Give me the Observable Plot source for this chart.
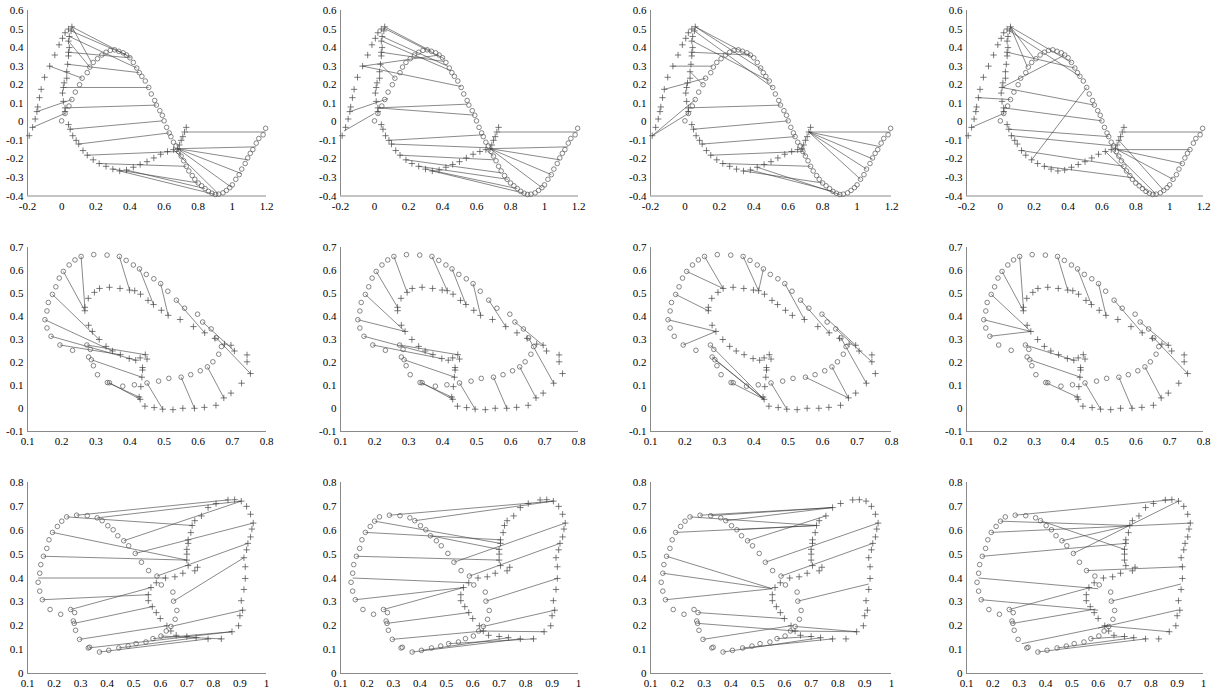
<!DOCTYPE html>
<html><head><meta charset="utf-8">
<script src="https://cdn.jsdelivr.net/npm/d3@7"></script>
<script src="https://cdn.jsdelivr.net/npm/@observablehq/plot@0.6"></script>
<style>
body{margin:0;background:#fff;}
#wrap{position:relative;width:1213px;height:691px;overflow:hidden;background:#fff;}
#wrap svg{position:absolute;max-width:none;}
</style></head><body><div id="wrap"></div>
<script>
// ---------- tick labels ----------
const row1XTicks = [-0.2,0,0.2,0.4,0.6,0.8,1,1.2];
const row1XLabels = ["-0.2","0","0.2","0.4","0.6","0.8","1","1.2"];
const row1YTicks = [-0.4,-0.3,-0.2,-0.1,0,0.1,0.2,0.3,0.4,0.5,0.6];
const row1YLabels = ["-0.4","-0.3","-0.2","-0.1","0","0.1","0.2","0.3","0.4","0.5","0.6"];
const row2XTicks = [0.1,0.2,0.3,0.4,0.5,0.6,0.7,0.8];
const row2XLabels = ["0.1","0.2","0.3","0.4","0.5","0.6","0.7","0.8"];
const row2YTicks = [-0.1,0,0.1,0.2,0.3,0.4,0.5,0.6,0.7];
const row2YLabels = ["-0.1","0","0.1","0.2","0.3","0.4","0.5","0.6","0.7"];
const row3XTicks = [0.1,0.2,0.3,0.4,0.5,0.6,0.7,0.8,0.9,1];
const row3XLabels = ["0.1","0.2","0.3","0.4","0.5","0.6","0.7","0.8","0.9","1"];
const row3YTicks = [0,0.1,0.2,0.3,0.4,0.5,0.6,0.7,0.8];
const row3YLabels = ["0","0.1","0.2","0.3","0.4","0.5","0.6","0.7","0.8"];

// ---------- row 1 point sets ----------
const row1Circles = [[0,0.005],[0.02,0.045],[0.043,0.085],[0.06,0.12],[0.08,0.16],[0.105,0.2],[0.12,0.235],[0.15,0.265],[0.165,0.295],[0.185,0.32],[0.21,0.34],[0.235,0.36],[0.26,0.375],[0.285,0.385],[0.31,0.388],[0.335,0.38],[0.36,0.372],[0.38,0.36],[0.4,0.345],[0.42,0.32],[0.44,0.29],[0.455,0.265],[0.47,0.245],[0.49,0.22],[0.51,0.185],[0.525,0.15],[0.545,0.115],[0.555,0.09],[0.575,0.06],[0.59,0.035],[0.6,0.005],[0.615,-0.03],[0.63,-0.06],[0.64,-0.08],[0.655,-0.11],[0.67,-0.13],[0.685,-0.16],[0.7,-0.185],[0.715,-0.21],[0.73,-0.24],[0.745,-0.265],[0.765,-0.29],[0.78,-0.31],[0.8,-0.33],[0.82,-0.345],[0.84,-0.36],[0.86,-0.375],[0.88,-0.385],[0.9,-0.392],[0.92,-0.39],[0.945,-0.383],[0.965,-0.37],[0.985,-0.355],[1.0,-0.34],[1.02,-0.31],[1.04,-0.285],[1.055,-0.255],[1.075,-0.225],[1.09,-0.195],[1.105,-0.17],[1.12,-0.15],[1.14,-0.115],[1.155,-0.09],[1.18,-0.07],[1.195,-0.035]];
const row1Plus = [[-0.19,-0.075],[-0.17,-0.03],[-0.155,0.015],[-0.145,0.055],[-0.14,0.08],[-0.13,0.13],[-0.12,0.175],[-0.1,0.24],[-0.07,0.3],[-0.04,0.36],[-0.015,0.415],[0.005,0.45],[0.02,0.48],[0.04,0.5],[0.06,0.512],[0.055,0.49],[0.045,0.46],[0.04,0.435],[0.045,0.4],[0.04,0.375],[0.04,0.355],[0.035,0.31],[0.03,0.27],[0.03,0.235],[0.015,0.21],[0.01,0.185],[0.005,0.155],[0.01,0.11],[0.02,0.075],[0.02,0.055],[0.04,-0.015],[0.05,-0.04],[0.065,-0.075],[0.085,-0.1],[0.1,-0.12],[0.125,-0.155],[0.15,-0.18],[0.185,-0.205],[0.22,-0.225],[0.26,-0.24],[0.3,-0.255],[0.34,-0.265],[0.38,-0.26],[0.42,-0.245],[0.46,-0.23],[0.5,-0.215],[0.54,-0.195],[0.58,-0.175],[0.62,-0.16],[0.655,-0.15],[0.68,-0.145],[0.69,-0.125],[0.7,-0.1],[0.71,-0.08],[0.72,-0.055],[0.73,-0.03]];

// ---------- row 2 point sets ----------
const row2Circles = [[0.333,0.667],[0.294,0.669],[0.257,0.661],[0.239,0.646],[0.222,0.624],[0.205,0.596],[0.193,0.567],[0.183,0.529],[0.173,0.496],[0.161,0.461],[0.157,0.424],[0.151,0.386],[0.157,0.35],[0.169,0.314],[0.195,0.276],[0.232,0.253],[0.274,0.276],[0.284,0.257],[0.279,0.224],[0.287,0.212],[0.293,0.186],[0.305,0.147],[0.334,0.113],[0.34,0.112],[0.379,0.097],[0.413,0.103],[0.45,0.111],[0.484,0.119],[0.514,0.131],[0.55,0.136],[0.578,0.147],[0.606,0.164],[0.627,0.181],[0.643,0.203],[0.66,0.236],[0.668,0.269],[0.653,0.307],[0.638,0.346],[0.613,0.376],[0.598,0.41],[0.56,0.436],[0.536,0.471],[0.511,0.51],[0.49,0.543],[0.47,0.564],[0.448,0.583],[0.428,0.607],[0.41,0.624],[0.389,0.644],[0.369,0.661]];
const row2Plus = [[0.278,0.479],[0.296,0.505],[0.311,0.522],[0.34,0.527],[0.371,0.522],[0.399,0.515],[0.414,0.512],[0.431,0.497],[0.453,0.47],[0.469,0.452],[0.492,0.427],[0.512,0.405],[0.547,0.387],[0.586,0.356],[0.619,0.329],[0.649,0.305],[0.677,0.28],[0.696,0.275],[0.706,0.25],[0.743,0.233],[0.743,0.203],[0.753,0.152],[0.727,0.11],[0.696,0.067],[0.675,0.046],[0.652,0.014],[0.618,0.005],[0.589,0.001],[0.555,0.001],[0.526,-0.005],[0.496,-0.003],[0.471,0.004],[0.444,0.01],[0.268,0.44],[0.268,0.425],[0.279,0.362],[0.29,0.335],[0.31,0.3],[0.33,0.27],[0.349,0.25],[0.372,0.234],[0.398,0.217],[0.417,0.21],[0.43,0.22],[0.445,0.234],[0.45,0.215],[0.437,0.178],[0.437,0.167],[0.435,0.136],[0.432,0.095],[0.427,0.05],[0.43,0.04]];

// ---------- row 3 point sets ----------
const row3Circles = [[0.285,0.663],[0.325,0.661],[0.3625,0.652],[0.381,0.64],[0.4025,0.619],[0.4225,0.602],[0.44,0.577],[0.4625,0.556],[0.481,0.535],[0.506,0.503],[0.529,0.466],[0.2475,0.656],[0.229,0.638],[0.2125,0.616],[0.194,0.591],[0.181,0.56],[0.1725,0.524],[0.16,0.491],[0.15,0.456],[0.146,0.42],[0.14,0.382],[0.146,0.345],[0.156,0.309],[0.185,0.268],[0.225,0.248],[0.2625,0.268],[0.2775,0.255],[0.2725,0.22],[0.276,0.21],[0.281,0.181],[0.296,0.143],[0.329,0.107],[0.334,0.11],[0.371,0.09],[0.406,0.097],[0.444,0.107],[0.479,0.115],[0.509,0.125],[0.546,0.132],[0.5725,0.146],[0.6025,0.157],[0.6225,0.178],[0.64,0.197],[0.656,0.227],[0.6475,0.341],[0.65,0.303],[0.6625,0.264],[0.556,0.431],[0.5875,0.408],[0.604,0.371]];
const row3Plus = [[0.78,0.695],[0.81,0.712],[0.855,0.727],[0.88,0.728],[0.905,0.722],[0.925,0.7],[0.94,0.667],[0.95,0.63],[0.945,0.605],[0.94,0.572],[0.93,0.545],[0.925,0.518],[0.915,0.485],[0.92,0.447],[0.92,0.398],[0.915,0.352],[0.905,0.305],[0.91,0.265],[0.9,0.242],[0.895,0.2],[0.87,0.175],[0.83,0.145],[0.78,0.145],[0.735,0.15],[0.7,0.155],[0.66,0.16],[0.64,0.178],[0.625,0.2],[0.6,0.23],[0.585,0.255],[0.57,0.28],[0.555,0.305],[0.555,0.33],[0.565,0.36],[0.585,0.38],[0.62,0.4],[0.655,0.405],[0.685,0.42],[0.73,0.43],[0.74,0.445],[0.705,0.452],[0.7,0.475],[0.7,0.5],[0.7,0.52],[0.705,0.545],[0.705,0.56],[0.715,0.59],[0.72,0.62],[0.73,0.64],[0.755,0.66]];

// ---------- correspondences [x1,y1,x2,y2] per panel ----------
const r1c1Links = [[0.06,0.512,0.41,0.345],[0.06,0.512,0.175,0.32],[0.055,0.49,0.38,0.36],[0.045,0.46,0.44,0.29],[0.04,0.435,0.165,0.295],[0.04,0.375,0.4,0.345],[0.035,0.31,0.455,0.265],[-0.07,0.3,0.12,0.235],[0.01,0.185,0.51,0.185],[-0.145,0.055,0.06,0.12],[0.02,0.075,0.555,0.09],[-0.17,-0.03,0.02,0.045],[0.05,-0.04,0.59,0.005],[0.1,-0.12,0.63,-0.06],[0.15,-0.18,0.685,-0.16],[0.22,-0.225,0.73,-0.24],[0.3,-0.255,0.8,-0.33],[0.34,-0.265,0.9,-0.392],[0.38,-0.26,0.84,-0.36],[0.73,-0.055,1.195,-0.055],[0.68,-0.145,1.14,-0.135],[0.68,-0.145,1.09,-0.205],[0.68,-0.145,1.055,-0.28],[0.68,-0.145,0.99,-0.35],[0.655,-0.15,0.92,-0.39],[0.68,-0.145,0.7,-0.185]];
const r1c2Links = [[0.055,0.505,0.41,0.34],[0.06,0.512,0.335,0.38],[0.045,0.46,0.43,0.3],[0.045,0.435,0.45,0.275],[0.04,0.375,0.41,0.325],[-0.07,0.3,0.38,0.36],[-0.07,0.3,0.51,0.19],[0.035,0.31,0.12,0.235],[-0.145,0.055,0.08,0.125],[0.02,0.075,0.545,0.095],[0.02,0.075,0.585,0.036],[-0.18,-0.05,0.0,0.045],[0.085,-0.1,0.64,-0.07],[0.1,-0.12,0.665,-0.14],[0.15,-0.18,0.705,-0.205],[0.185,-0.205,0.745,-0.275],[0.26,-0.24,0.785,-0.31],[0.3,-0.255,0.84,-0.36],[0.34,-0.265,0.88,-0.385],[0.73,-0.055,1.195,-0.055],[0.68,-0.145,1.14,-0.135],[0.68,-0.145,1.09,-0.205],[0.68,-0.145,1.04,-0.285],[0.68,-0.145,0.985,-0.355],[0.655,-0.15,0.7,-0.185]];
const r1c3Links = [[0.06,0.512,0.39,0.35],[0.06,0.512,0.45,0.28],[0.055,0.49,0.51,0.185],[0.045,0.435,0.49,0.22],[0.04,0.375,0.38,0.36],[-0.07,0.3,0.16,0.3],[-0.12,0.175,0.12,0.235],[0.03,0.27,0.105,0.2],[-0.19,-0.075,0.02,0.045],[-0.19,-0.075,0.06,0.12],[0.02,0.075,0.555,0.09],[0.05,-0.04,0.6,0.005],[0.1,-0.12,0.64,-0.08],[0.15,-0.18,0.685,-0.16],[0.22,-0.225,0.73,-0.24],[0.34,-0.265,0.8,-0.33],[0.38,-0.26,0.86,-0.375],[0.42,-0.245,0.9,-0.392],[0.72,-0.055,1.195,-0.055],[0.72,-0.055,1.14,-0.135],[0.72,-0.055,1.09,-0.2],[0.72,-0.055,1.055,-0.255],[0.72,-0.055,1.02,-0.31],[0.68,-0.145,0.7,-0.185]];
const r1c4Links = [[0.06,0.512,0.42,0.32],[0.06,0.512,0.16,0.295],[0.06,0.512,0.2,0.34],[0.055,0.49,0.47,0.245],[0.04,0.375,0.44,0.29],[0.01,0.185,0.38,0.36],[0.01,0.185,0.555,0.09],[-0.13,0.13,0.06,0.12],[-0.17,-0.03,0.02,0.045],[0.02,0.075,0.6,0.005],[0.05,-0.04,0.64,-0.08],[0.065,-0.075,0.67,-0.13],[0.185,-0.205,0.51,0.185],[0.125,-0.155,0.73,-0.24],[0.26,-0.24,0.77,-0.3],[0.655,-0.15,0.92,-0.39],[0.62,-0.16,0.88,-0.385],[0.73,-0.055,1.195,-0.055],[0.69,-0.15,1.12,-0.15],[0.69,-0.15,1.075,-0.225],[0.69,-0.15,1.02,-0.31],[0.7,-0.1,0.965,-0.37]];

const r2c1Links = [[0.257,0.661,0.268,0.44],[0.205,0.596,0.268,0.425],[0.173,0.496,0.31,0.3],[0.151,0.386,0.349,0.25],[0.169,0.314,0.417,0.21],[0.195,0.276,0.372,0.234],[0.274,0.276,0.445,0.234],[0.287,0.212,0.435,0.136],[0.334,0.113,0.427,0.05],[0.34,0.112,0.43,0.04],[0.45,0.111,0.496,-0.003],[0.55,0.136,0.589,0.001],[0.627,0.181,0.675,0.046],[0.653,0.307,0.753,0.152],[0.613,0.376,0.706,0.25],[0.536,0.471,0.619,0.329],[0.49,0.543,0.512,0.405],[0.428,0.607,0.469,0.452],[0.369,0.661,0.399,0.515]];
const r2c2Links = [[0.257,0.661,0.296,0.505],[0.205,0.596,0.268,0.44],[0.173,0.496,0.29,0.335],[0.151,0.386,0.29,0.335],[0.169,0.314,0.372,0.234],[0.195,0.276,0.398,0.217],[0.274,0.276,0.445,0.234],[0.287,0.212,0.437,0.136],[0.334,0.113,0.427,0.05],[0.34,0.112,0.43,0.04],[0.45,0.111,0.496,-0.003],[0.55,0.136,0.589,0.001],[0.627,0.181,0.675,0.046],[0.653,0.307,0.727,0.11],[0.613,0.376,0.696,0.275],[0.536,0.471,0.586,0.356],[0.49,0.543,0.512,0.405],[0.428,0.607,0.469,0.452],[0.369,0.661,0.414,0.512]];
const r2c3Links = [[0.257,0.661,0.311,0.522],[0.205,0.596,0.311,0.522],[0.173,0.496,0.268,0.425],[0.151,0.386,0.29,0.335],[0.195,0.276,0.29,0.335],[0.274,0.276,0.43,0.04],[0.279,0.224,0.43,0.04],[0.287,0.212,0.43,0.04],[0.334,0.113,0.43,0.04],[0.45,0.111,0.496,-0.003],[0.55,0.136,0.675,0.046],[0.627,0.181,0.675,0.046],[0.653,0.307,0.727,0.11],[0.638,0.346,0.743,0.203],[0.598,0.41,0.696,0.275],[0.536,0.471,0.619,0.329],[0.49,0.543,0.547,0.387],[0.428,0.607,0.414,0.512],[0.369,0.661,0.414,0.512]];
const r2c4Links = [[0.257,0.661,0.268,0.44],[0.205,0.596,0.268,0.425],[0.173,0.496,0.29,0.335],[0.151,0.386,0.29,0.335],[0.169,0.314,0.29,0.335],[0.274,0.276,0.417,0.21],[0.287,0.212,0.437,0.136],[0.334,0.113,0.427,0.05],[0.45,0.111,0.496,-0.003],[0.55,0.136,0.589,0.001],[0.627,0.181,0.675,0.046],[0.653,0.307,0.753,0.152],[0.613,0.376,0.696,0.275],[0.536,0.471,0.619,0.329],[0.49,0.543,0.512,0.405],[0.428,0.607,0.469,0.452],[0.369,0.661,0.399,0.515]];

const r3c1Links = [[0.285,0.663,0.855,0.727],[0.3625,0.652,0.905,0.722],[0.2475,0.656,0.72,0.62],[0.4625,0.556,0.905,0.722],[0.194,0.591,0.7,0.475],[0.16,0.491,0.7,0.475],[0.506,0.503,0.95,0.63],[0.14,0.4,0.62,0.4],[0.5875,0.408,0.93,0.545],[0.156,0.309,0.555,0.33],[0.2625,0.268,0.565,0.36],[0.65,0.303,0.915,0.485],[0.276,0.21,0.57,0.28],[0.296,0.143,0.625,0.2],[0.64,0.197,0.91,0.265],[0.329,0.107,0.87,0.175],[0.371,0.09,0.78,0.145],[0.444,0.107,0.735,0.15],[0.5725,0.146,0.87,0.175],[0.6025,0.157,0.83,0.145]];
const r3c2Links = [[0.285,0.663,0.905,0.722],[0.381,0.64,0.905,0.722],[0.229,0.638,0.705,0.545],[0.194,0.591,0.705,0.56],[0.44,0.577,0.7,0.52],[0.16,0.491,0.7,0.475],[0.529,0.466,0.95,0.63],[0.146,0.4,0.585,0.38],[0.5875,0.408,0.93,0.545],[0.156,0.309,0.565,0.36],[0.2625,0.268,0.565,0.36],[0.276,0.21,0.585,0.255],[0.65,0.303,0.92,0.398],[0.296,0.143,0.64,0.178],[0.64,0.197,0.91,0.265],[0.6225,0.178,0.87,0.175],[0.371,0.09,0.78,0.145],[0.406,0.097,0.735,0.15],[0.509,0.125,0.83,0.145]];
const r3c3Links = [[0.285,0.663,0.78,0.695],[0.325,0.661,0.78,0.695],[0.381,0.64,0.78,0.695],[0.2475,0.656,0.72,0.62],[0.4225,0.602,0.72,0.62],[0.194,0.591,0.72,0.62],[0.4625,0.556,0.755,0.66],[0.529,0.466,0.95,0.63],[0.16,0.491,0.555,0.355],[0.146,0.42,0.555,0.355],[0.156,0.309,0.555,0.355],[0.5875,0.408,0.93,0.545],[0.65,0.303,0.915,0.375],[0.2775,0.255,0.6,0.23],[0.276,0.21,0.64,0.178],[0.296,0.143,0.625,0.2],[0.64,0.197,0.87,0.175],[0.6225,0.178,0.87,0.175],[0.371,0.09,0.735,0.15],[0.444,0.107,0.78,0.145],[0.5725,0.146,0.7,0.155]];
const r3c4Links = [[0.285,0.663,0.88,0.728],[0.229,0.638,0.72,0.62],[0.381,0.64,0.7,0.52],[0.506,0.503,0.905,0.722],[0.194,0.591,0.95,0.63],[0.16,0.491,0.705,0.545],[0.4625,0.556,0.72,0.62],[0.146,0.4,0.6,0.355],[0.556,0.431,0.92,0.447],[0.156,0.309,0.6,0.265],[0.2625,0.268,0.57,0.36],[0.276,0.21,0.59,0.27],[0.65,0.303,0.915,0.375],[0.31,0.125,0.64,0.2],[0.6225,0.2,0.87,0.175],[0.6,0.19,0.9,0.265],[0.371,0.09,0.78,0.145],[0.444,0.107,0.735,0.15],[0.5725,0.146,0.7,0.155]];

// ---------- assembly ----------
const rowsCfg = [
  {xT:row1XTicks,xL:row1XLabels,yT:row1YTicks,yL:row1YLabels,circles:row1Circles,plus:row1Plus,links:[r1c1Links,r1c2Links,r1c3Links,r1c4Links]},
  {xT:row2XTicks,xL:row2XLabels,yT:row2YTicks,yL:row2YLabels,circles:row2Circles,plus:row2Plus,links:[r2c1Links,r2c2Links,r2c3Links,r2c4Links]},
  {xT:row3XTicks,xL:row3XLabels,yT:row3YTicks,yL:row3YLabels,circles:row3Circles,plus:row3Plus,links:[r3c1Links,r3c2Links,r3c3Links,r3c4Links]}
];
const colPx = [[27,266],[340,578],[650,891],[966,1203]];
const rowPx = [[9.5,195],[247,431],[482,673]];
const FONT = "'Liberation Serif', 'Times New Roman', Times, serif";
const wrap = document.getElementById("wrap");

rowsCfg.forEach((cfg, r) => {
  const xFmt = new Map(cfg.xT.map((t,i)=>[t,cfg.xL[i]]));
  const yFmt = new Map(cfg.yT.map((t,i)=>[t,cfg.yL[i]]));
  const xDom = [cfg.xT[0], cfg.xT[cfg.xT.length-1]];
  const yDom = [cfg.yT[0], cfg.yT[cfg.yT.length-1]];
  colPx.forEach(([x0,x1], c) => {
    const [y0,y1] = rowPx[r];
    const mL=34,mR=8,mT=8,mB=22;
    const chart = Plot.plot({
      width: x1-x0+mL+mR, height: y1-y0+mT+mB,
      marginLeft:mL, marginRight:mR, marginTop:mT, marginBottom:mB,
      style:{background:"transparent", overflow:"visible", color:"#000"},
      x:{domain:xDom}, y:{domain:yDom},
      marks:[
        Plot.axisX(cfg.xT,{tickSize:0, tickPadding:6, tickFormat:d=>xFmt.get(d), fontFamily:FONT, fontSize:11}),
        Plot.axisY(cfg.yT,{tickSize:0, tickPadding:4, tickFormat:d=>yFmt.get(d), fontFamily:FONT, fontSize:11}),
        Plot.ruleX([xDom[0]],{stroke:"#8a8a8a", strokeWidth:1}),
        Plot.ruleY([yDom[0]],{stroke:"#8a8a8a", strokeWidth:1}),
        Plot.link(cfg.links[c],{x1:d=>d[0],y1:d=>d[1],x2:d=>d[2],y2:d=>d[3],stroke:"#3a3a3a",strokeWidth:0.6}),
        Plot.dot(cfg.circles,{x:d=>d[0],y:d=>d[1],r:2.3,stroke:"#555",strokeWidth:0.7,fill:"none"}),
        Plot.dot(cfg.plus,{x:d=>d[0],y:d=>d[1],symbol:"plus",r:2.2,stroke:"#444",strokeWidth:0.7})
      ]
    });
    chart.setAttribute("font-family", FONT);
    chart.querySelectorAll("text").forEach(t => { t.style.fontFamily = FONT; t.style.fontSize = "11px"; t.style.fontVariant = "normal"; });
    chart.style.left = (x0-mL)+"px";
    chart.style.top = (y0-mT)+"px";
    wrap.appendChild(chart);
  });
});
</script>
</body></html>
